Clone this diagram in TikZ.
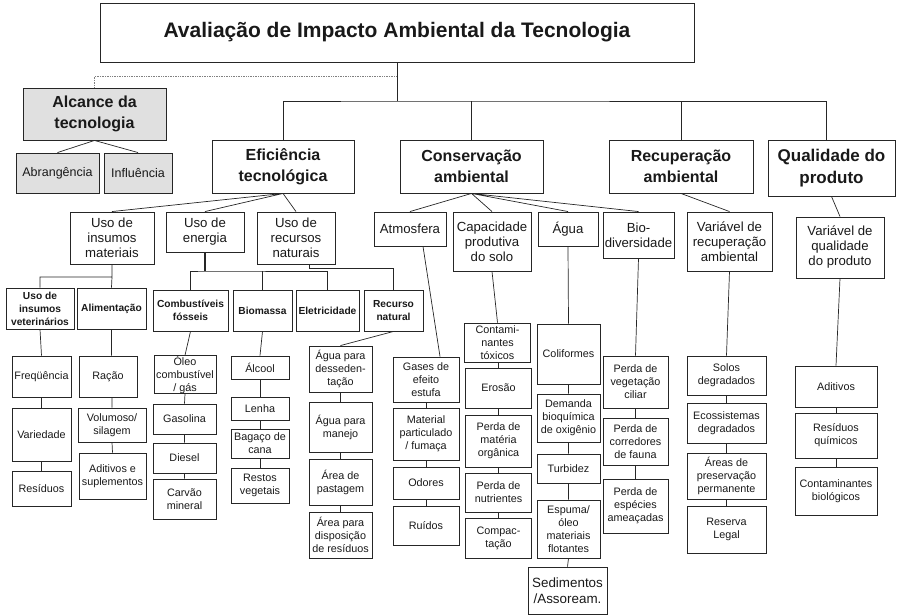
\documentclass[tikz,border=0pt]{standalone}
\usepackage{fontspec}
\setmainfont{Liberation Sans}
\usepackage{tikz}
\tikzset{
  bx/.style={draw=black!85,line width=0.9pt,inner sep=0pt,align=center,text=black!90},
  sz/.style 2 args={minimum width=#1pt,minimum height=#2pt},
  gry/.style={fill=black!12},
  ttl/.style={font=\fontsize{21}{24}\selectfont\bfseries},
  lv1/.style={font=\fontsize{16}{21.5}\selectfont\bfseries},
  sub/.style={font=\fontsize{12.5}{15}\selectfont},
  lv2/.style={font=\fontsize{13.2}{15}\selectfont},
  lv3/.style={font=\fontsize{10.2}{13}\selectfont\bfseries},
  lv4/.style={font=\fontsize{10.8}{13}\selectfont},
  lnk/.style={draw=black!85,line width=0.7pt}
}
\begin{document}
\begin{tikzpicture}[x=1pt,y=-1pt]
\useasboundingbox (0,0) rectangle (897,615);
% top
\node[bx,ttl,sz={594}{59}] (title) at (397,32.5) {Avaliação de Impacto Ambiental da Tecnologia};
\node[bx,lv1,gry,sz={143}{52}] (alc) at (94.5,114) {Alcance da\\tecnologia};
\node[bx,sub,gry,sz={83}{40}] (abr) at (57.5,173) {Abrangência};
\node[bx,sub,gry,sz={68}{40}] (inf) at (138,173) {Influência};
\node[bx,lv1,sz={142}{53}] (efi) at (283,166.5) {Eficiência\\tecnológica};
\node[bx,lv1,sz={143}{53}] (con) at (471.5,166.5) {Conservação\\ambiental};
\node[bx,lv1,sz={144}{53}] (rec) at (681,166.5) {Recuperação\\ambiental};
\node[bx,lv1,sz={127}{56},font=\fontsize{17}{21.7}\selectfont\bfseries] (qua) at (831.5,168) {Qualidade do\\produto};
\coordinate (bus) at (397,101);
\coordinate (dotj) at (397,76);
% second level
\node[bx,lv2,sz={84}{52}] (usi) at (112,238) {Uso de\\insumos\\materiais};
\node[bx,lv2,sz={78}{40}] (use) at (205,232) {Uso de\\energia};
\node[bx,lv2,sz={78}{52}] (usr) at (296,238) {Uso de\\recursos\\naturais};
\node[bx,lv2,sz={72}{34}] (atm) at (410,229) {Atmosfera};
\node[bx,lv2,sz={78}{59}] (cap) at (492,241.5) {Capacidade\\produtiva\\do solo};
\node[bx,lv2,sz={60}{34}] (agu) at (568,229) {Água};
\node[bx,lv2,sz={71}{46}] (bio) at (638.5,235) {Bio-\\diversidade};
\node[bx,lv2,sz={85}{59}] (vrc) at (729.5,241.5) {Variável de\\recuperação\\ambiental};
\node[bx,lv2,sz={88}{61}] (vql) at (840,247.5) {Variável de\\qualidade\\do produto};
% third level
\node[bx,lv3,sz={68}{41}] (vet) at (40,308.5) {Uso de\\insumos\\veterinários};
\node[bx,lv3,sz={69}{41}] (ali) at (111.5,308.5) {Alimentação};
\node[bx,lv3,sz={75}{41}] (cfo) at (190.5,310.5) {Combustíveis\\fósseis};
\node[bx,lv3,sz={59}{41}] (bms) at (262.5,310.5) {Biomassa};
\node[bx,lv3,sz={63}{41}] (ele) at (327.5,310.5) {Eletricidade};
\node[bx,lv3,sz={59}{41}] (rnt) at (393.5,310.5) {Recurso\\natural};
% leaves
\node[bx,lv4,sz={59}{41}] (freq) at (41.5,376.5) {Freqüência};
\node[bx,lv4,sz={59}{53}] (vari) at (41.5,434.5) {Variedade};
\node[bx,lv4,sz={59}{35}] (resi) at (41.5,488.5) {Resíduos};
\node[bx,lv4,sz={58}{41}] (rac) at (108,376.5) {Ração};
\node[bx,lv4,sz={68}{34}] (vol) at (112,425) {Volumoso/\\silagem};
\node[bx,lv4,sz={67}{46}] (adi) at (112.5,476) {Aditivos e\\suplementos};
\node[bx,lv4,sz={62}{37}] (ole) at (185,374.5) {Óleo\\combustível\\/ gás};
\node[bx,lv4,sz={63}{30}] (gas) at (184.5,419) {Gasolina};
\node[bx,lv4,sz={63}{30}] (die) at (184.5,458) {Diesel};
\node[bx,lv4,sz={63}{40}] (car) at (184.5,499) {Carvão\\mineral};
\node[bx,lv4,sz={58}{23}] (alcool) at (260,367.5) {Álcool};
\node[bx,lv4,sz={58}{23}] (len) at (260,408.5) {Lenha};
\node[bx,lv4,sz={58}{29}] (bag) at (260,443.5) {Bagaço de\\cana};
\node[bx,lv4,sz={58}{35}] (rst) at (260,485.5) {Restos\\vegetais};
\node[bx,lv4,sz={63}{46}] (ades) at (340.5,369) {Água para\\desseden-\\tação};
\node[bx,lv4,sz={63}{50}] (amj) at (340.5,427) {Água para\\manejo};
\node[bx,lv4,sz={63}{46}] (apa) at (340.5,482) {Área de\\pastagem};
\node[bx,lv4,sz={63}{46}] (adr) at (340.5,535) {Área para\\disposição\\de resíduos};
\node[bx,lv4,sz={66}{45}] (gee) at (426,379.5) {Gases de\\efeito\\estufa};
\node[bx,lv4,sz={66}{52}] (mat) at (426,434) {Material\\particulado\\/ fumaça};
\node[bx,lv4,sz={66}{32}] (odo) at (426,483) {Odores};
\node[bx,lv4,sz={66}{39}] (rui) at (426,525.5) {Ruídos};
\node[bx,lv4,sz={66}{39}] (ctx) at (497.5,342.5) {Contami-\\nantes\\tóxicos};
\node[bx,lv4,sz={66}{40}] (ero) at (498.5,388) {Erosão};
\node[bx,lv4,sz={66}{52}] (pmo) at (498.5,441) {Perda de\\matéria\\orgânica};
\node[bx,lv4,sz={66}{39}] (pnu) at (498.5,492.5) {Perda de\\nutrientes};
\node[bx,lv4,sz={66}{40}] (cmp) at (498.5,538) {Compac-\\tação};
\node[bx,lv4,sz={63}{60}] (col) at (568.5,354) {Coliformes};
\node[bx,lv4,sz={63}{48}] (dbo) at (568.5,418) {Demanda\\bioquímica\\de oxigênio};
\node[bx,lv4,sz={63}{29}] (tur) at (568.5,468.5) {Turbidez};
\node[bx,lv4,sz={63}{58}] (esp) at (568.5,529) {Espuma/\\óleo\\materiais\\flotantes};
\node[bx,sz={79}{47},font=\fontsize{13.4}{16}\selectfont] (sed) at (567.5,590.5) {Sedimentos\\/Assoream.};
\node[bx,lv4,sz={65}{52}] (pvc) at (635.5,382) {Perda de\\vegetação\\ciliar};
\node[bx,lv4,sz={65}{47}] (pcf) at (635.5,441.5) {Perda de\\corredores\\de fauna};
\node[bx,lv4,sz={65}{54}] (pea) at (635.5,506) {Perda de\\espécies\\ameaçadas};
\node[bx,lv4,sz={79}{39}] (sol) at (726.5,375.5) {Solos\\degradados};
\node[bx,lv4,sz={79}{40}] (eco) at (726.5,423) {Ecossistemas\\degradados};
\node[bx,lv4,sz={79}{46}] (app) at (726.5,476) {Áreas de\\preservação\\permanente};
\node[bx,lv4,sz={79}{47}] (rlg) at (726.5,529.5) {Reserva\\Legal};
\node[bx,lv4,sz={82}{41}] (adt) at (836,386.5) {Aditivos};
\node[bx,lv4,sz={82}{45}] (rqu) at (836,435.5) {Resíduos\\químicos};
\node[bx,lv4,sz={82}{48}] (cbi) at (836,491) {Contaminantes\\biológicos};
% connectors
\draw[densely dotted,black!50,line width=0.7pt] (alc.north) |- (dotj);
\draw[lnk] (title.south) -- (bus);
\draw[lnk] (efi.north) |- (bus) -| ([xshift=-5pt]qua.north);
\draw[lnk] (con.north) -- (con.north |- bus) (rec.north) -- (rec.north |- bus);
\draw[lnk] (alc.south) -- (abr.north) (alc.south) -- (inf.north);
\draw[lnk] (efi.south) -- (usi.north) (efi.south) -- (use.north) (efi.south) -- (usr.north);
\draw[lnk] (con.south) -- (atm.north) (con.south) -- (cap.north) (con.south) -- (agu.north) (con.south) -- (bio.north);
\draw[lnk] (rec.south) -- (vrc.north) (qua.south) -- (vql.north);
\coordinate (jm) at (112,277);
\coordinate (je) at (205,271);
\draw[lnk] (usi.south) -- (jm) -| (vet.north) (jm) -- (ali.north);
\draw[draw=black!85,line width=2pt] (use.south) -- (je);
\draw[lnk] (cfo.north) |- (je) -| (ele.north) (bms.north) -- (bms.north |- je);
\draw[lnk] ([xshift=13pt]usr.south) -- ++(0,4) -| (rnt.north);
\draw[lnk] (vet.south) -- (freq.north) (ali.south) -- (ali.south |- rac.north);
\draw[lnk] (cfo.south) -- (ole.north) (bms.south) -- (alcool.north) (rnt.south) -- (ades.north);
\draw[lnk] ([xshift=13pt]atm.south) -- ([xshift=14pt]gee.north) (cap.south) -- (ctx.north) (agu.south) -- (col.north);
\draw[lnk] (bio.south) -- (pvc.north) (vrc.south) -- (sol.north) (vql.south) -- (adt.north);
\draw[lnk] (freq.south) -- (vari.north) (vari.south) -- (resi.north);
\draw[lnk] (vol.north) -- (vol.north |- rac.south) (vol.south) -- (adi.north);
\draw[lnk] (ole.south) -- (gas.north) (gas.south) -- (die.north) (die.south) -- (car.north);
\draw[lnk] (alcool.south) -- (len.north) (len.south) -- (bag.north) (bag.south) -- (rst.north);
\draw[lnk] (ades.south) -- (amj.north) (amj.south) -- (apa.north) (apa.south) -- (adr.north);
\draw[lnk] (gee.south) -- (mat.north) (mat.south) -- (odo.north) (odo.south) -- (rui.north);
\draw[lnk] (ero.north) -- (ero.north |- ctx.south) (ero.south) -- (pmo.north) (pmo.south) -- (pnu.north) (pnu.south) -- (cmp.north);
\draw[lnk] (col.south) -- (dbo.north) (dbo.south) -- (tur.north) (tur.south) -- (esp.north) (esp.south) -- (sed.north);
\draw[lnk] (pvc.south) -- (pcf.north) (pcf.south) -- (pea.north);
\draw[lnk] (sol.south) -- (eco.north) (eco.south) -- (app.north) (app.south) -- (rlg.north);
\draw[lnk] (adt.south) -- (rqu.north) (rqu.south) -- (cbi.north);
\end{tikzpicture}
\end{document}
